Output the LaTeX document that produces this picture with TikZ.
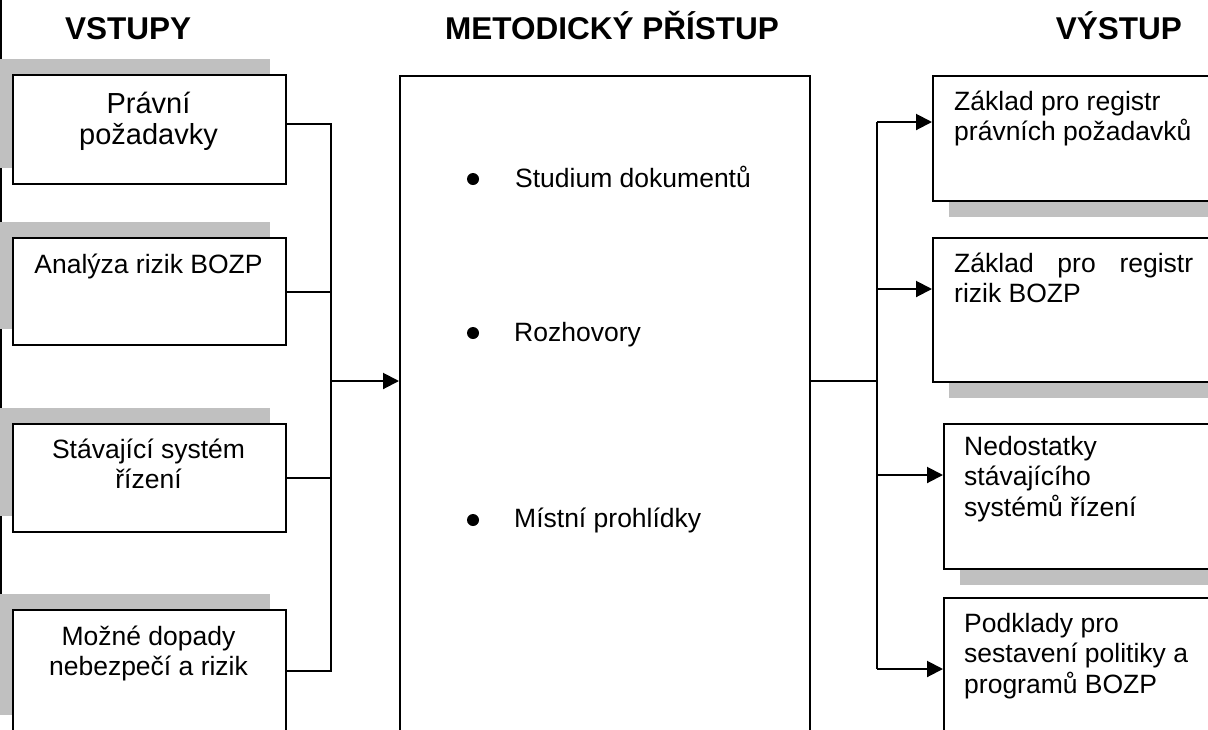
\documentclass[tikz,border=0pt]{standalone}
\usepackage{fontspec}
\setmainfont{Liberation Sans}
\usetikzlibrary{arrows.meta,shadows}
\definecolor{shgray}{HTML}{C0C0C0}
\begin{document}
\begin{tikzpicture}[x=1pt,y=-1pt,
  conn/.style={line width=2pt},
  arr/.style={line width=2pt,-{Triangle[length=16pt,width=16pt]}},
  boxbase/.style={draw=black,fill=white,line width=2pt,inner sep=0pt,anchor=north west},
  lbox/.style={boxbase,minimum width=273pt,general shadow={shadow xshift=-16pt,shadow yshift=16pt,fill=shgray,draw=none}},
  rbox/.style={boxbase,general shadow={shadow xshift=16pt,shadow yshift=-16pt,fill=shgray,draw=none}},
  txt/.style={font=\fontsize{26.5}{30.5}\selectfont,inner sep=0pt},
  bigtxt/.style={font=\fontsize{29}{31.5}\selectfont,inner sep=0pt},
  head/.style={font=\fontsize{31.5}{36}\selectfont\bfseries,inner sep=0pt},
  bullet/.style={circle,fill=black,inner sep=0pt,minimum size=12pt},
]
\useasboundingbox (0,0) rectangle (1208,729);
\clip (0,0) rectangle (1208,729);
\fill[white] (0,0) rectangle (1208,729);
% left frame line
\draw[line width=1.5pt] (0.75,0) -- (0.75,714);

% headings
\node[head,anchor=base west] (hin) at (65,39) {VSTUPY};
\node[head,anchor=base west] (hmid) at (445,39) {METODICKÝ PŘÍSTUP};
\node[head,anchor=base east] (hout) at (1182,39) {VÝSTUP};

% left boxes
\node[lbox,minimum height=109pt] (L1) at (12,74) {};
\node[lbox,minimum height=107pt] (L2) at (12,237) {};
\node[lbox,minimum height=108pt] (L3) at (12,423) {};
\node[lbox,minimum height=121pt] (L4) at (12,609) {};

\node[bigtxt,anchor=base] (tL1) at (148.5,113) {\begin{tabular}[t]{@{}c@{}}Právní\\požadavky\end{tabular}};
\node[txt,anchor=base] (tL2) at (148.5,273) {Analýza rizik BOZP};
\node[txt,anchor=base] (tL3) at (148.5,458) {\begin{tabular}[t]{@{}c@{}}Stávající systém\\řízení\end{tabular}};
\node[txt,anchor=base] (tL4) at (148.5,645) {\begin{tabular}[t]{@{}c@{}}Možné dopady\\nebezpečí a rizik\end{tabular}};

% centre box
\node[boxbase,minimum width=410pt,minimum height=680pt] (C) at (399,75) {};
\node[bullet] (b1) at (473,179) {};
\node[bullet] (b2) at (473,333) {};
\node[bullet] (b3) at (473,520) {};
\node[txt,anchor=base west] (c1) at (515,187) {Studium dokumentů};
\node[txt,anchor=base west] (c2) at (514,341) {Rozhovory};
\node[txt,anchor=base west] (c3) at (514,527) {Místní prohlídky};

% right boxes
\node[rbox,minimum width=290pt,minimum height=125pt] (R1) at (932,75) {};
\node[rbox,minimum width=290pt,minimum height=144pt] (R2) at (932,237) {};
\node[rbox,minimum width=279pt,minimum height=145pt] (R3) at (943,423) {};
\node[rbox,minimum width=279pt,minimum height=170pt] (R4) at (943,597) {};

\node[txt,anchor=base west] (tR1) at (954,110) {\begin{tabular}[t]{@{}l@{}}Základ pro registr\\právních požadavků\end{tabular}};
\node[txt,anchor=base west] (tR2) at (954,272) {\begin{tabular}[t]{@{}l@{}}\hbox to 239pt{Základ\hfill pro\hfill registr}\\rizik BOZP\end{tabular}};
\node[txt,anchor=base west] (tR3) at (964,455) {\begin{tabular}[t]{@{}l@{}}Nedostatky\\stávajícího\\systémů řízení\end{tabular}};
\node[txt,anchor=base west] (tR4) at (964,632) {\begin{tabular}[t]{@{}l@{}}Podklady pro\\sestavení politiky a\\programů BOZP\end{tabular}};

% left connectors
\coordinate (jL) at (331,381);
\draw[conn] ([yshift=5.5pt]L1.east) -| (jL) |- (L4.east);
\draw[conn] (L2.east) -- (L2.east -| jL);
\draw[conn] (L3.east) -- (L3.east -| jL);
\draw[arr] (jL) -- (jL -| C.west);

% right connectors
\coordinate (jR) at (877,381);
\coordinate (t1) at (877,122);
\coordinate (t2) at (877,289);
\coordinate (t3) at (877,475);
\coordinate (t4) at (877,669);
\draw[conn] (jR -| C.east) -- (jR);
\draw[conn] (t1) -- (t4);
\draw[arr] (t1) -- (t1 -| R1.west);
\draw[arr] (t2) -- (t2 -| R2.west);
\draw[arr] (t3) -- (t3 -| R3.west);
\draw[arr] (t4) -- (t4 -| R4.west);
\end{tikzpicture}
\end{document}
